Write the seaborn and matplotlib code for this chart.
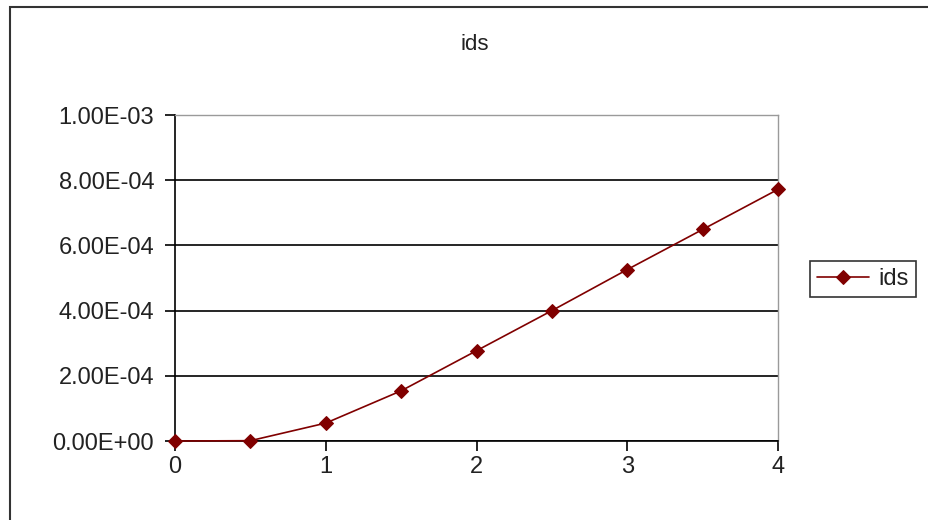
import matplotlib
matplotlib.use("Agg")
import matplotlib.pyplot as plt
import seaborn as sns
import pandas as pd
from matplotlib.patches import Rectangle

# values
vgs = [0.0, 0.5, 1.0, 1.5, 2.0, 2.5, 3.0, 3.5, 4.0]
ids = [0.0, 1.0e-6, 5.5e-5, 1.54e-4, 2.77e-4, 4.0e-4, 5.26e-4, 6.49e-4, 7.72e-4]
y_ticks = [0.0, 2e-4, 4e-4, 6e-4, 8e-4, 1e-3]
x_ticks = [0, 1, 2, 3, 4]

df = pd.DataFrame({"vgs": vgs, "ids": ids})

sns.set_style("white")
plt.rcParams["font.family"] = ["Liberation Sans", "DejaVu Sans"]

fig = plt.figure(figsize=(9.29, 5.2), dpi=100)
ax = fig.add_axes([0.1884, 0.1519, 0.6491, 0.6269])

sns.lineplot(data=df, x="vgs", y="ids", ax=ax, color="#800000", marker="D",
             markersize=7.5, markeredgecolor="#800000", linewidth=1.2, label="ids")
for line in ax.lines:
    line.set_clip_on(False)
    line.set_zorder(5)

ax.set_xlim(0, 4)
ax.set_ylim(0, 1e-3)
ax.set_xticks(x_ticks)
ax.set_yticks(y_ticks)
ax.set_xticklabels([str(t) for t in x_ticks])
ax.set_yticklabels([f"{v:.2E}" for v in y_ticks])
ax.set_xlabel("")
ax.set_ylabel("")
ax.tick_params(axis="both", labelsize=17, colors="black", labelcolor="#222222",
               direction="out", length=7, width=1.2, left=True, bottom=True)
ax.tick_params(axis="y", pad=8)
ax.tick_params(axis="x", pad=4)
ax.grid(axis="y", color="black", linewidth=1.2)
ax.set_axisbelow(True)
for side in ["left", "bottom"]:
    ax.spines[side].set_color("black")
    ax.spines[side].set_linewidth(1.2)
for side in ["top", "right"]:
    ax.spines[side].set_visible(True)
    ax.spines[side].set_color("#9a9a9a")
    ax.spines[side].set_linewidth(1.0)

fig.text(0.511, 0.915, "ids", ha="center", va="center", fontsize=16, color="#222222")

leg = ax.legend(loc="center left", bbox_to_anchor=(0.872, 0.4635),
                bbox_transform=fig.transFigure, fontsize=17, frameon=True,
                fancybox=False, handlelength=2.2, handletextpad=0.4,
                borderpad=0.3, borderaxespad=0)
leg.get_frame().set_edgecolor("black")
leg.get_frame().set_linewidth(1.2)
for t in leg.get_texts():
    t.set_color("#222222")

fig.patches.append(Rectangle((0.011, -0.05), 1.05, 1.0365, transform=fig.transFigure,
                             fill=False, edgecolor="#333333", linewidth=1.5))

fig.savefig("out.png", dpi=100)
